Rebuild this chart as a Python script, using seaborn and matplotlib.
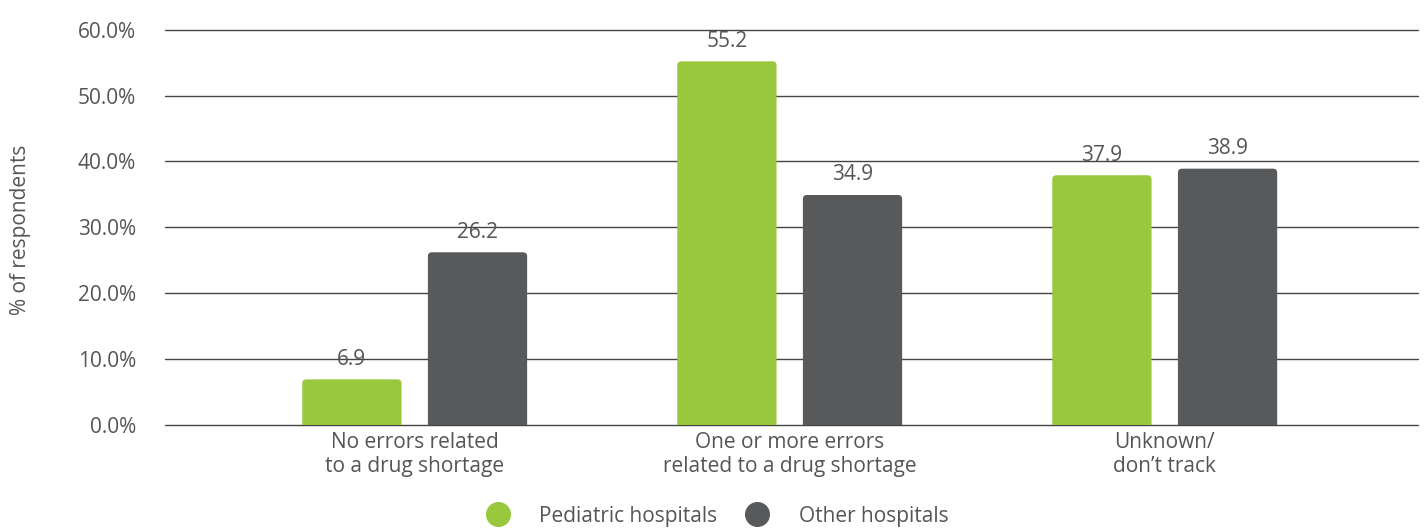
import matplotlib
matplotlib.use("Agg")
import matplotlib.pyplot as plt
from matplotlib.patches import FancyBboxPatch
import seaborn as sns
import pandas as pd

# data
categories = ["No errors related\nto a drug shortage",
              "One or more errors\nrelated to a drug shortage",
              "Unknown/\ndon\u2019t track"]
pediatric = [6.9, 55.2, 37.9]
other = [26.2, 34.9, 38.9]
series = ["Pediatric hospitals", "Other hospitals"]
colors = ["#99c83c", "#58595b"]
yticks = [0, 10, 20, 30, 40, 50, 60]

df = pd.DataFrame({
    "category": categories * 2,
    "value": pediatric + other,
    "group": [series[0]] * 3 + [series[1]] * 3,
})

sns.set_style("white")
plt.rcParams["font.family"] = ["Open Sans", "DejaVu Sans"]
text_color = "#555555"

fig, ax = plt.subplots(figsize=(14.25, 5.31), dpi=100)
fig.subplots_adjust(left=0.116, right=0.995, top=0.944, bottom=0.2)

sns.barplot(data=df, x="category", y="value", hue="group", hue_order=series,
            palette=colors, width=0.67, gap=0.21, ax=ax, legend=False,
            saturation=1, zorder=3)

ax.set_ylim(0, 60)
ax.set_xlim(-0.665, 2.675)

# value labels
for cont in ax.containers:
    ax.bar_label(cont, fmt="%.1f", padding=7, fontsize=15, color=text_color)

# swap plain bars for ones with slightly rounded corners
rx = 0.011
ry = 0.6
for p in list(ax.patches):
    x, w, h = p.get_x(), p.get_width(), p.get_height()
    rb = FancyBboxPatch((x, -ry), w, h + ry,
                        boxstyle=f"round,pad=0,rounding_size={rx}",
                        mutation_aspect=ry / rx, facecolor=p.get_facecolor(),
                        edgecolor="none", zorder=3)
    ax.add_patch(rb)
    p.set_visible(False)

ax.set_yticks(yticks)
ax.set_yticklabels([f"{t:.1f}%" for t in yticks])
ax.yaxis.grid(True, color="#444444", linewidth=1, zorder=0)
for gl in ax.get_ygridlines():
    gl.set_clip_on(False)
ax.set_axisbelow(True)
for s in ax.spines.values():
    s.set_visible(False)
ax.tick_params(axis="y", length=0, pad=21, labelsize=15, labelcolor=text_color)
ax.tick_params(axis="x", length=0, pad=5, labelsize=15, labelcolor=text_color)
ax.set_xlabel("")
ax.set_ylabel("% of respondents", fontsize=15, color=text_color)
ax.yaxis.set_label_coords(-0.107, 0.494)

handles = [plt.Line2D([0], [0], marker="o", linestyle="", markersize=17,
                      markerfacecolor=c, markeredgecolor=c) for c in colors]
fig.legend(handles, series, loc="lower center", ncol=2, frameon=False,
           fontsize=15, labelcolor=text_color, bbox_to_anchor=(0.5, -0.027),
           handletextpad=1.0, columnspacing=0.9)

fig.savefig("out.png", dpi=100)
